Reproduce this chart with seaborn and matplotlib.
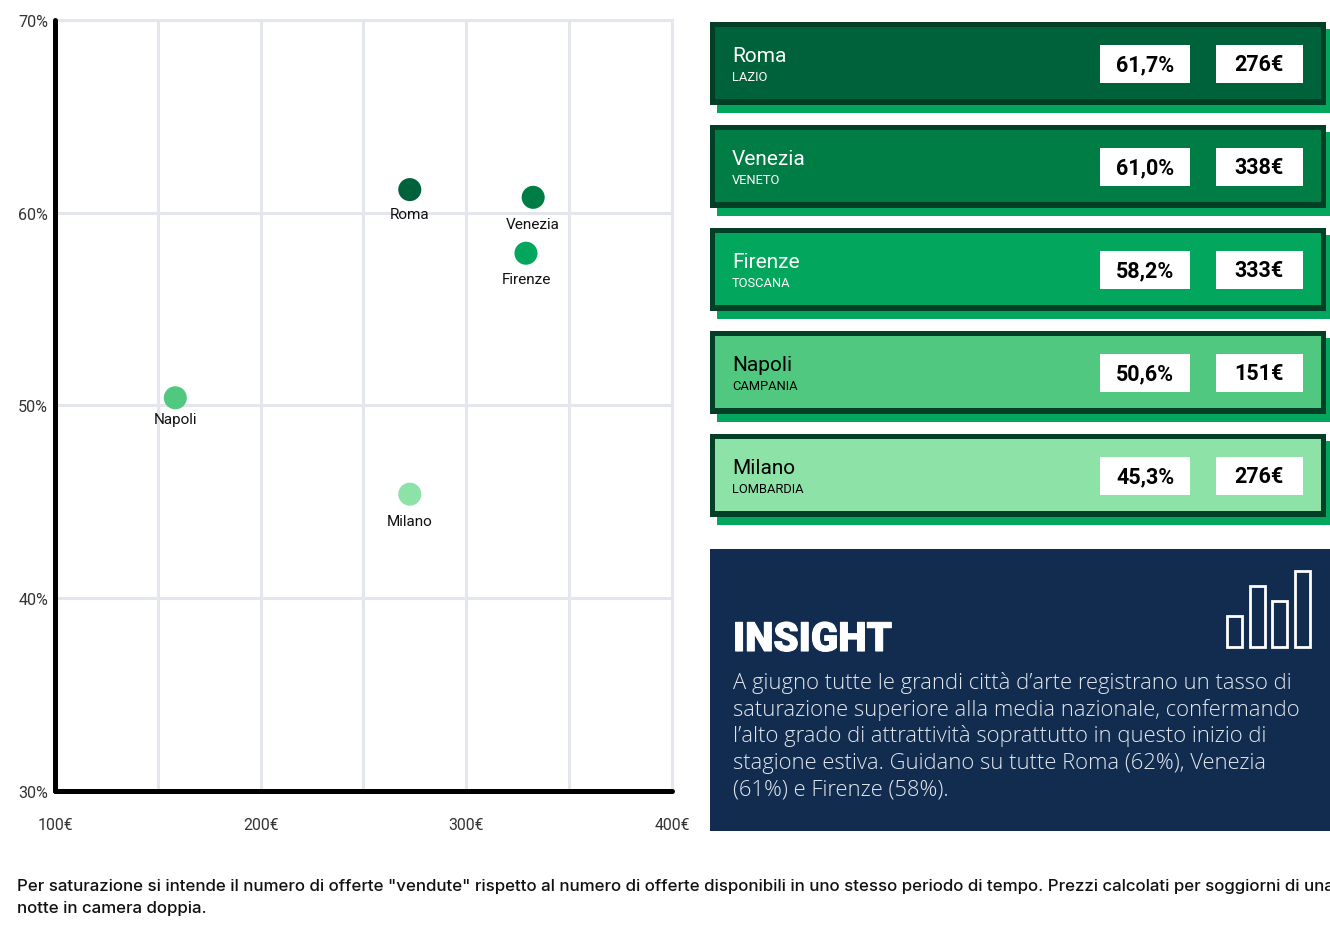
import matplotlib
matplotlib.use("Agg")
import matplotlib.pyplot as plt
from matplotlib.patches import Rectangle
from matplotlib import patheffects
import pandas as pd
import seaborn as sns

# data
cities = ["Roma", "Venezia", "Firenze", "Napoli", "Milano"]
regions = ["LAZIO", "VENETO", "TOSCANA", "CAMPANIA", "LOMBARDIA"]
saturation_labels = ["61,7%", "61,0%", "58,2%", "50,6%", "45,3%"]
price_labels = ["276€", "338€", "333€", "151€", "276€"]
plot_prices = [272.5, 332.5, 329, 158.5, 272.5]
plot_saturation = [61.2, 60.8, 57.9, 50.4, 45.4]
colors = ["#00623A", "#007C45", "#02A65C", "#50C87F", "#8DE2A8"]
name_colors = ["white", "white", "white", "black", "black"]
x_ticks = [100, 200, 300, 400]
y_ticks = [30, 40, 50, 60, 70]
icon_heights = [31, 61, 46, 76]

insight_lines = [
    "A giugno tutte le grandi città d’arte registrano un tasso di",
    "saturazione superiore alla media nazionale, confermando",
    "l’alto grado di attrattività soprattutto in questo inizio di",
    "stagione estiva. Guidano su tutte Roma (62%), Venezia",
    "(61%) e Firenze (58%).",
]
footnote = [
    'Per saturazione si intende il numero di offerte "vendute" rispetto al numero di offerte disponibili in uno stesso periodo di tempo. Prezzi calcolati per soggiorni di una',
    "notte in camera doppia.",
]

sns.set_theme(style="white")
plt.rcParams["font.family"] = ["Roboto", "DejaVu Sans"]

W, H = 1330, 937
fig = plt.figure(figsize=(W / 100, H / 100), dpi=100, facecolor="white")

# scatter
ax = fig.add_axes([55 / W, 1 - 792 / H, 617 / W, 771 / H])
df = pd.DataFrame({"city": cities, "price": plot_prices, "sat": plot_saturation})
sns.scatterplot(data=df, x="price", y="sat", hue="city", palette=colors, hue_order=cities,
                s=275, linewidth=0, legend=False, ax=ax, zorder=3)
ax.set_xlim(100, 400)
ax.set_ylim(30, 70)
ax.set_xlabel("")
ax.set_ylabel("")
ax.set_xticks(x_ticks)
ax.set_xticklabels([f"{t}€" for t in x_ticks])
ax.set_xticks([150, 250, 350], minor=True)
ax.set_yticks(y_ticks)
ax.set_yticklabels([f"{t}%" for t in y_ticks])
ax.grid(True, which="both", color="#E3E6EC", linewidth=2.2)
ax.set_axisbelow(True)
ax.tick_params(axis="x", which="both", length=0, pad=19, labelsize=11.4, labelcolor="#333333")
ax.tick_params(axis="y", length=0, pad=5, labelsize=11.6, labelcolor="#333333")
for side in ["top", "right"]:
    ax.spines[side].set_color("#E3E6EC")
    ax.spines[side].set_linewidth(2.2)
for side in ["left", "bottom"]:
    ax.spines[side].set_color("black")
    ax.spines[side].set_linewidth(3.6)
    ax.spines[side].set_capstyle("round")
    ax.spines[side].set_zorder(5)

label_offsets = [24, 27, 26, 21, 27]
for i, city in enumerate(cities):
    ax.annotate(city, (plot_prices[i], plot_saturation[i]), xytext=(0, -label_offsets[i] / 1.389),
                textcoords="offset points", ha="center", va="center", fontsize=11, color="#111111")

# pixel canvas for the right panel and the notes
ov = fig.add_axes([0, 0, 1, 1], facecolor="none")
ov.set_xlim(0, W)
ov.set_ylim(H, 0)
ov.axis("off")

for i, city in enumerate(cities):
    top = 23 + i * 103
    ov.add_patch(Rectangle((717, top + 7), 613, 84, color="#02A65C", lw=0))
    ov.add_patch(Rectangle((710, top), 616, 83, color="#033F26", lw=0))
    ov.add_patch(Rectangle((715, top + 5), 606, 72, color=colors[i], lw=0))
    ov.text(732, top + 39, city, color=name_colors[i], fontsize=15, va="baseline", ha="left")
    ov.text(732, top + 58, regions[i], color=name_colors[i], fontsize=9.3, va="baseline", ha="left")
    ov.add_patch(Rectangle((1100, top + 23), 90, 38, color="white", lw=0))
    ov.add_patch(Rectangle((1216, top + 23), 87, 38, color="white", lw=0))
    ov.text(1145, top + 48, saturation_labels[i], color="black", fontsize=15.5, weight="bold", ha="center", va="baseline")
    ov.text(1259, top + 48, price_labels[i], color="black", fontsize=15.5, weight="bold", ha="center", va="baseline")

# insight box
ov.add_patch(Rectangle((710, 550), 620, 282, color="#122C50", lw=0))
title = ov.text(733, 652, "INSIGHT", color="white", fontsize=29, weight="black", ha="left", va="baseline")
title.set_path_effects([patheffects.withStroke(linewidth=0.8, foreground="white")])
for i, h in enumerate(icon_heights):
    ov.add_patch(Rectangle((1227 + i * 22.5, 648 - h), 15, h, fill=False, edgecolor="white", lw=2))
for i, line in enumerate(insight_lines):
    ov.text(733, 683 + i * 26.7, line, color="#E2E7ED", fontsize=15.85, weight="light",
            family=["Open Sans", "DejaVu Sans"], ha="left", va="center")

# footnote
for i, line in enumerate(footnote):
    ov.text(17, 887 + i * 22, line, color="#111111", fontsize=12.15, weight="medium",
            family=["Inter", "DejaVu Sans"], ha="left", va="center")

fig.savefig("out.png", dpi=100)
